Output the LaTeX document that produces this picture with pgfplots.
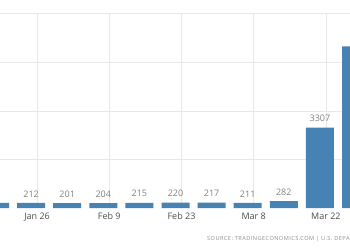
\documentclass[border=0pt]{standalone}
\usepackage{fontspec}
\setmainfont{Open Sans}
\usepackage{pgfplots}
\pgfplotsset{compat=1.18}
\definecolor{barblue}{HTML}{4682B4}
\begin{document}
\begin{tikzpicture}[x=1pt,y=1pt]
\begin{axis}[
  at={(0,0)}, anchor=south west,
  scale only axis, width=350pt, height=194.4pt,
  xmin=0.1385, xmax=9.834, ymin=0, ymax=8000,
  axis line style={draw=none},
  major tick length=0pt,
  ytick={2000,4000,6000,8000}, yticklabels={}, ymajorgrids,
  xtick={1.166,3.166,5.166,7.166,9.166},
  xticklabels={Jan 26,Feb 9,Feb 23,Mar 8,Mar 22},
  xmajorgrids,
  grid style={draw=black!9, line width=0.6pt},
  xticklabel style={font=\fontsize{9}{10}\selectfont, text=black!70, anchor=base, yshift=-11.9pt},
  ybar, bar width=28pt,
  /pgf/number format/.cd, 1000 sep={}, assume math mode=true, /pgfplots/.cd,
  nodes near coords,
  nodes near coords style={font=\fontsize{9}{10}\selectfont, text=black!50, anchor=base, yshift=5.8pt},
  clip=true,
]
\addplot[fill=barblue, draw=none] coordinates {
  (0,209) (1,212) (2,201) (3,204) (4,215) (5,220) (6,217) (7,211) (8,282) (9,3307) (10,6648)
};
\end{axis}
\node[anchor=west, inner sep=0pt, text=black!45, font=\fontsize{5.6}{7}\selectfont\addfontfeatures{LetterSpace=8}] at (207,-31) {SOURCE: TRADINGECONOMICS.COM | U.S. DEPARTMENT OF LABOR};
\pgfresetboundingbox
\useasboundingbox (0,-42) rectangle (350,208);
\end{tikzpicture}
\end{document}
